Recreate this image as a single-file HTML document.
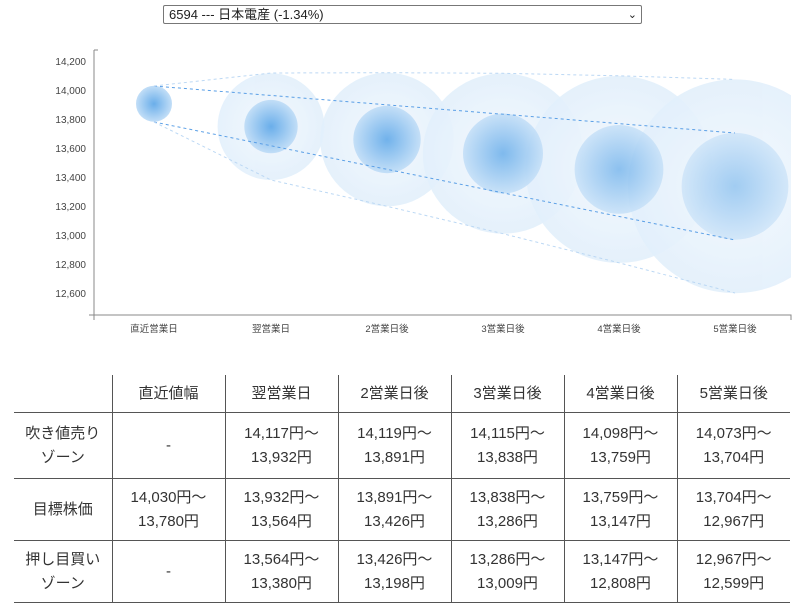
<!DOCTYPE html>
<html><head><meta charset="utf-8"><style>
body{margin:0;width:802px;height:608px;background:#fff;font-family:"Liberation Sans","Noto Sans CJK JP",sans-serif;position:relative;overflow:hidden}
.sel{position:absolute;left:163px;top:5px;border:1px solid #777;border-radius:2px;font-size:13px;color:#222;line-height:18px;padding-left:5px;box-sizing:border-box;width:479px;height:19px}
.sel span{position:absolute;right:4px;top:0;font-size:11px}
table{position:absolute;left:14px;top:375px;border-collapse:collapse;color:#333;font-size:15px}
td{border-bottom:1px solid #555;border-left:1px solid #555;text-align:center;line-height:24px;padding:0}
td:first-child{border-left:none}
tr.h td{height:37px}
tr.r1 td{height:65px}
tr.r td{height:61px}
</style></head><body>
<div class="sel">6594 --- 日本電産 (-1.34%)<span>&#8964;</span></div>
<svg width="802" height="340" style="position:absolute;left:0;top:0" font-family="Liberation Sans, Noto Sans CJK JP, sans-serif">
<defs>
<radialGradient id="gi"><stop offset="0" stop-color="#6aaeea"/><stop offset="1" stop-color="#c2def7"/></radialGradient>
<radialGradient id="go"><stop offset="0" stop-color="#eef6fd" stop-opacity=".9"/><stop offset="1" stop-color="#d6e9fa" stop-opacity=".9"/></radialGradient>
<clipPath id="c"><rect x="94" y="40" width="697" height="275"/></clipPath>
</defs>
<g fill="#444" font-size="10" text-anchor="end">
<text x="86" y="65">14,200</text><text x="86" y="94">14,000</text><text x="86" y="123">13,800</text><text x="86" y="152">13,600</text><text x="86" y="181">13,400</text><text x="86" y="210">13,200</text><text x="86" y="239">13,000</text><text x="86" y="268">12,800</text><text x="86" y="297">12,600</text>
</g>
<g clip-path="url(#c)">
<g opacity=".7">
<circle cx="271" cy="126.6" r="53.4" fill="url(#go)"/>
<circle cx="387" cy="139.5" r="66.8" fill="url(#go)"/>
<circle cx="503" cy="153.5" r="80.2" fill="url(#go)"/>
<circle cx="619" cy="169.4" r="93.5" fill="url(#go)"/>
<circle cx="735" cy="186.3" r="106.9" fill="url(#go)"/>
</g>
<circle cx="154" cy="103.8" r="18" fill="url(#gi)"/>
<circle cx="271" cy="126.6" r="26.7" fill="url(#gi)"/>
<circle cx="387" cy="139.5" r="33.7" fill="url(#gi)" opacity=".95"/>
<circle cx="503" cy="153.5" r="40" fill="url(#gi)" opacity=".85"/>
<circle cx="619" cy="169.4" r="44.4" fill="url(#gi)" opacity=".75"/>
<circle cx="735" cy="186.3" r="53.4" fill="url(#gi)" opacity=".6"/>
</g>
<g fill="none" stroke-dasharray="3,3" stroke-width="1">
<path d="M154 86L735 133M154 122L735 240" stroke="#5a9fe6"/>
<path d="M154 86L271 73L387 72.7L503 73.3L619 75.8L735 79.4M154 122L271 180L387 206.3L503 233.7L619 262.8L735 293" stroke="#bcd8f4"/>
</g>
<path d="M94 50V320M89 315H791V320M94 50H98" stroke="#888" fill="none"/>
<g fill="#444" font-size="9.5" text-anchor="middle">
<text x="154" y="332">直近営業日</text><text x="271" y="332">翌営業日</text><text x="387" y="332">2営業日後</text><text x="503" y="332">3営業日後</text><text x="619" y="332">4営業日後</text><text x="735" y="332">5営業日後</text>
</g>
</svg>
<table>
<colgroup><col style="width:98px"><col style="width:113px"><col style="width:113px"><col style="width:113px"><col style="width:113px"><col style="width:113px"><col style="width:113px"></colgroup>
<tr class="h"><td></td><td>直近値幅</td><td>翌営業日</td><td>2営業日後</td><td>3営業日後</td><td>4営業日後</td><td>5営業日後</td></tr>
<tr class="r1"><td>吹き値売り<br>ゾーン</td><td>-</td><td>14,117円～<br>13,932円</td><td>14,119円～<br>13,891円</td><td>14,115円～<br>13,838円</td><td>14,098円～<br>13,759円</td><td>14,073円～<br>13,704円</td></tr>
<tr class="r"><td>目標株価</td><td>14,030円～<br>13,780円</td><td>13,932円～<br>13,564円</td><td>13,891円～<br>13,426円</td><td>13,838円～<br>13,286円</td><td>13,759円～<br>13,147円</td><td>13,704円～<br>12,967円</td></tr>
<tr class="r"><td>押し目買い<br>ゾーン</td><td>-</td><td>13,564円～<br>13,380円</td><td>13,426円～<br>13,198円</td><td>13,286円～<br>13,009円</td><td>13,147円～<br>12,808円</td><td>12,967円～<br>12,599円</td></tr>
</table>
</body></html>
